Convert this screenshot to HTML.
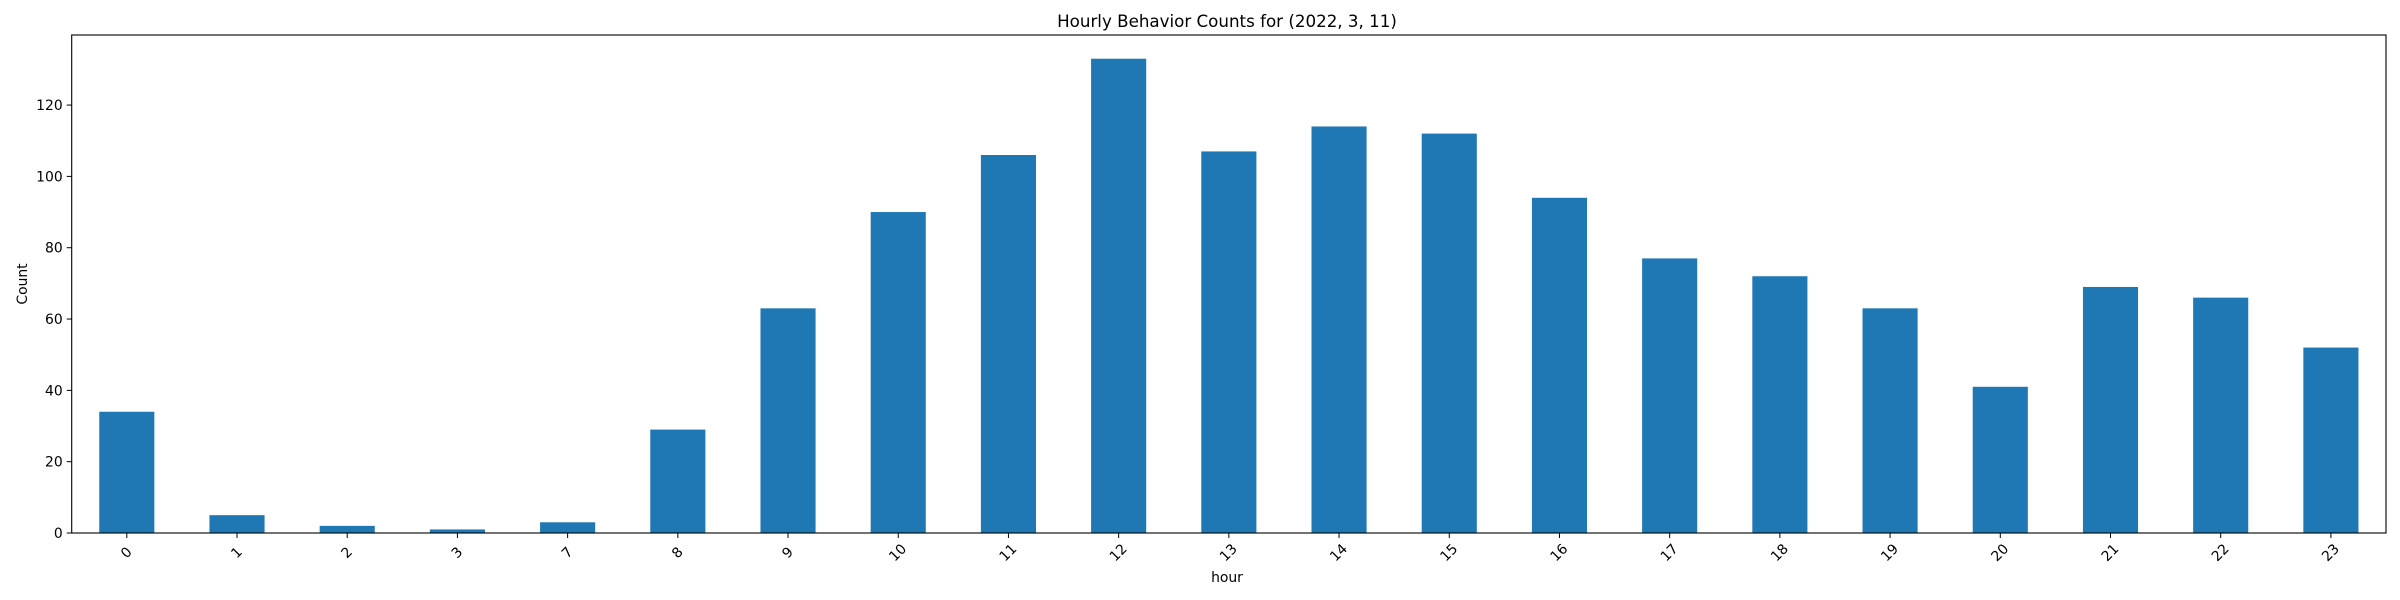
<!DOCTYPE html>
<html><head><meta charset="utf-8"><style>
body{margin:0;background:#fff}
svg{display:block;font-family:"DejaVu Sans","Liberation Sans",sans-serif}
</style></head><body>
<svg id="chart" width="2400" height="600" viewBox="0 0 2400 600">
<rect width="2400" height="600" fill="#fff"/>
<text x="1227" y="27" font-size="16.7" text-anchor="middle" fill="#000">Hourly Behavior Counts for (2022, 3, 11)</text>
<g id="bars"></g>
<g id="yticks"></g>
<g id="xticks"></g>
<rect x="71.7" y="35" width="2314.3" height="498" fill="none" stroke="#000" stroke-width="1.1"/>
<text x="1227" y="582" font-size="13.9" text-anchor="middle">hour</text>
<text transform="translate(27,284) rotate(-90)" font-size="13.9" text-anchor="middle">Count</text>
</svg>
<script>
const categories=["0","1","2","3","7","8","9","10","11","12","13","14","15","16","17","18","19","20","21","22","23"];
const counts=[34,5,2,1,3,29,63,90,106,133,107,114,112,94,77,72,63,41,69,66,52];
const yTicks=[0,20,40,60,80,100,120];
const NS="http://www.w3.org/2000/svg";
const L=71.7,R=2386,T=35,B=533;
const ymax=Math.max(...counts)*1.05;
const n=categories.length;
const step=(R-L)/n;
function xc(i){return L+step*(i+0.5);}
function y(v){return B-(v/ymax)*(B-T);}
function mk(tag,attrs){const e=document.createElementNS(NS,tag);for(const k in attrs)e.setAttribute(k,attrs[k]);return e;}
const bars=document.getElementById('bars');
counts.forEach((v,i)=>{
  const r=mk('rect',{x:xc(i)-step*0.25,y:y(v),width:step*0.5,height:B-y(v),fill:'#1f77b4'});
  
  
  bars.appendChild(r);
});
const yg=document.getElementById('yticks');
yTicks.forEach(t=>{
  const ln=mk('line',{x1:L-5,x2:L,y1:y(t),y2:y(t),stroke:'#000','stroke-width':1});
  
  
  yg.appendChild(ln);
  const tx=mk('text',{x:L-9,y:y(t)+5,'font-size':13.9,'text-anchor':'end'});
  tx.textContent=t;
  
  
  yg.appendChild(tx);
});
const xg=document.getElementById('xticks');
categories.forEach((c,i)=>{
  const x=xc(i);
  const ln=mk('line',{x1:x,x2:x,y1:B,y2:B+5,stroke:'#000','stroke-width':1});
  
  
  xg.appendChild(ln);
  const tx=mk('text',{transform:`translate(${x},${B+20}) rotate(-45)`,'font-size':13.9,'text-anchor':'middle','dominant-baseline':'middle'});
  tx.textContent=c;
  
  
  xg.appendChild(tx);
});
</script>
</body></html>
